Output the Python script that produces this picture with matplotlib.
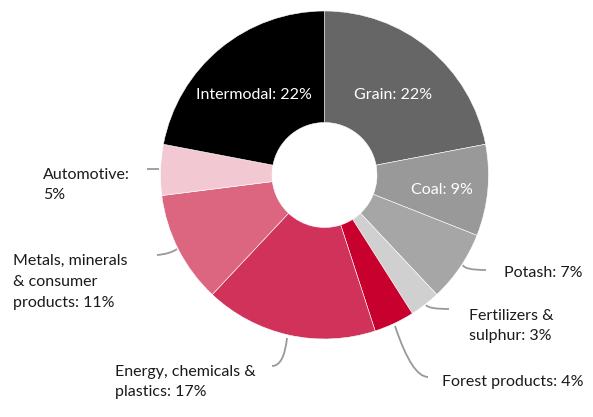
import matplotlib
matplotlib.use("Agg")
import matplotlib.pyplot as plt
from matplotlib.path import Path
from matplotlib.patches import PathPatch

categories = ["Grain", "Coal", "Potash", "Fertilizers &\nsulphur", "Forest products",
              "Energy, chemicals &\nplastics", "Metals, minerals\n& consumer\nproducts",
              "Automotive", "Intermodal"]
shares = [22, 9, 7, 3, 4, 17, 11, 5, 22]
colors = ["#666666", "#999999", "#a6a6a6", "#d0d0d0", "#c8002e",
          "#d0325a", "#dc6680", "#f2c9d3", "#000000"]

W, H = 593, 417
fig = plt.figure(figsize=(W / 100, H / 100), dpi=100)
ax = fig.add_axes([0, 0, 1, 1])

cx, cy, R = 324.5, H - 175, 164
ax.pie(shares, colors=colors, startangle=90, counterclock=False,
       center=(cx, cy), radius=R, frame=True,
       wedgeprops=dict(width=R * 0.68, edgecolor="white", linewidth=0.4))
ax.set_xlim(0, W)
ax.set_ylim(0, H)
ax.set_aspect("equal")
ax.axis("off")

FONT = "Lato"
FS = 11.5

def y(v):
    return H - v

# labels inside the ring
ax.text(254, y(95), f"{categories[8]}: {shares[8]}%", color="white", fontsize=FS,
        family=FONT, ha="center", va="center")
ax.text(393, y(95), f"{categories[0]}: {shares[0]}%", color="white", fontsize=FS,
        family=FONT, ha="center", va="center")
ax.text(473, y(190), f"{categories[1]}: {shares[1]}%", color="white", fontsize=FS,
        family=FONT, ha="right", va="center")

def label(x0, ymid, text, ha="left"):
    ax.text(x0, y(ymid), text, color="#1a1a1a", fontsize=FS, family=FONT,
            ha=ha, va="center", linespacing=1.62)

label(583, 273, f"{categories[2]}: {shares[2]}%", ha="right")
label(469, 326, f"{categories[3]}: {shares[3]}%")
label(583, 382, f"{categories[4]}: {shares[4]}%", ha="right")
label(115, 382, f"{categories[5]}: {shares[5]}%")
label(13, 282, f"{categories[6]}: {shares[6]}%")
label(43, 185, f"{categories[7]}:\n{shares[7]}%")

def leader(p0, p1, p2):
    verts = [(a, y(b)) for a, b in (p0, p1, p2)]
    path = Path(verts, [Path.MOVETO, Path.CURVE3, Path.CURVE3])
    ax.add_patch(PathPatch(path, fc="none", ec="#999999", lw=1.3))

leader((463, 265), (464, 270), (486, 270))
leader((426, 305), (428, 309), (449, 309))
leader((395, 326), (412, 377), (428, 377))
leader((287, 338), (284, 366), (272, 366))
leader((157, 255), (170, 254), (177, 249))
leader((147, 169), (153, 169), (159, 169))

fig.savefig("out.png", dpi=100)
